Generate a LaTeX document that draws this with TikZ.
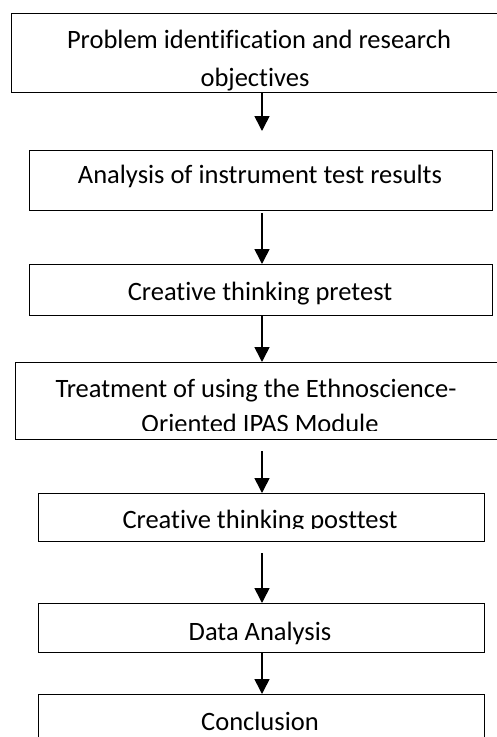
\documentclass[tikz,border=0pt]{standalone}
\usepackage{fontspec}
\setmainfont[Ligatures={NoCommon}]{Carlito}
\usetikzlibrary{arrows.meta}
\tikzset{
  box/.style={draw=black, line width=1.3pt, rectangle, anchor=north west, inner sep=0pt},
  lbl/.style={anchor=base, inner sep=0pt, font=\fontsize{26.5}{30}\selectfont},
  arr/.style={line width=1.6pt, -{Triangle[length=15pt,width=15pt]}}
}
\begin{document}
\begin{tikzpicture}[x=1pt,y=-1pt]
\path[use as bounding box] (0,0) rectangle (497,737);
\clip (0,0) rectangle (497,737);
\fill[white] (0,0) rectangle (497,737);
% boxes
\node[box, minimum width=500pt, minimum height=79.5pt] (b1) at (11,12.5) {};
\node[box, minimum width=463pt, minimum height=60pt] (b2) at (29,150) {};
\node[box, minimum width=463pt, minimum height=51pt] (b3) at (29,264) {};
\node[box, minimum width=500pt, minimum height=77pt] (b4) at (15,362) {};
\node[box, minimum width=446pt, minimum height=48pt] (b5) at (38,493) {};
\node[box, minimum width=446pt, minimum height=49pt] (b6) at (38,603) {};
\node[box, minimum width=446pt, minimum height=60pt] (b7) at (38,694) {};
% texts
\begin{scope}
\clip (11,12.5) rectangle (497,91.5);
\node[lbl] (t1a) at (259,48) {Problem identification and research};
\node[lbl] (t1b) at (255,86) {objectives};
\end{scope}
\node[lbl] (t2) at (260,183) {Analysis of instrument test results};
\node[lbl] (t3) at (260,300) {Creative thinking pretest};
\begin{scope}
\clip (15,362) rectangle (497,430);
\node[lbl] (t4a) at (256,397) {Treatment of using the Ethnoscience-};
\node[lbl] (t4b) at (260,432) {Oriented IPAS Module};
\end{scope}
\begin{scope}
\clip (38,493) rectangle (484,528.5);
\node[lbl] (t5) at (260,528) {Creative thinking posttest};
\end{scope}
\node[lbl] (t6) at (260,640) {Data Analysis};
\node[lbl] (t7) at (260,730) {Conclusion};
% arrow start points
\coordinate (s1) at (262,92);
\coordinate (s2) at (262,213);
\coordinate (s3) at (262,315);
\coordinate (s4) at (262,451);
\coordinate (s5) at (262,553);
\coordinate (s6) at (262,652);
\coordinate (e1) at (262,131);
\draw[arr] (s1) -- (e1);
\draw[arr] (s2) -- (s2 |- b3.north);
\draw[arr] (s3) -- (s3 |- b4.north);
\draw[arr] (s4) -- (s4 |- b5.north);
\draw[arr] (s5) -- (s5 |- b6.north);
\draw[arr] (s6) -- (s6 |- b7.north);
\end{tikzpicture}
\end{document}
